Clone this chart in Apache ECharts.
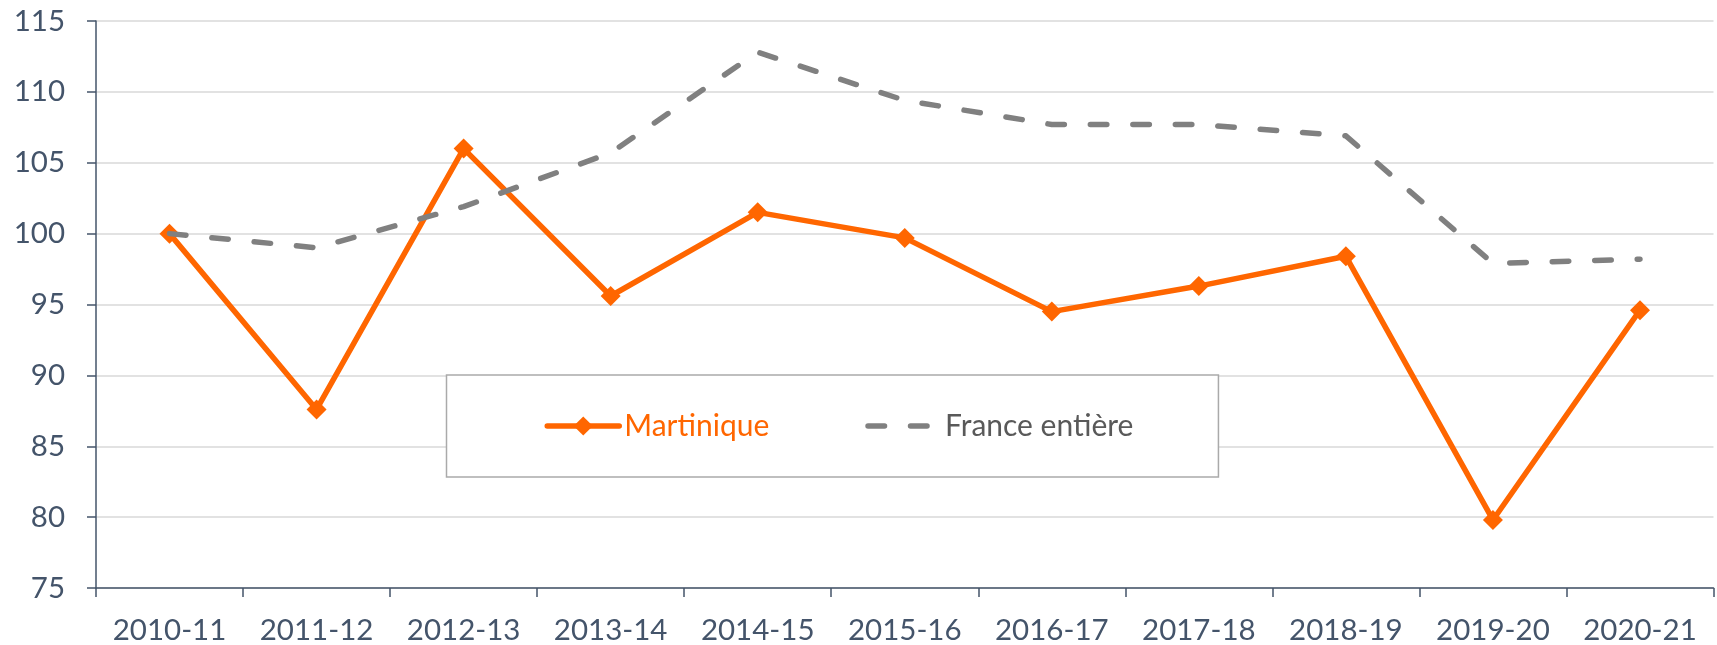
<!DOCTYPE html>
<html>
<head>
<meta charset="utf-8">
<script src="https://cdn.jsdelivr.net/npm/echarts@6/dist/echarts.min.js"></script>
<style>
html,body{margin:0;padding:0;background:#fff;}
#chart{width:1717px;height:645px;}
</style>
</head>
<body>
<div id="chart"></div>
<script>
const categories = ['2010-11','2011-12','2012-13','2013-14','2014-15','2015-16','2016-17','2017-18','2018-19','2019-20','2020-21'];
const martinique = [100, 87.6, 106.0, 95.6, 101.5, 99.7, 94.5, 96.3, 98.4, 79.8, 94.6];
const franceEntiere = [100, 99.0, 101.9, 105.7, 112.8, 109.4, 107.7, 107.7, 106.9, 97.9, 98.2];
const yTicks = {min: 75, max: 115, interval: 5};

const FONT = 'Lato';
const AXIS_COLOR = '#44546A';
const chart = echarts.init(document.getElementById('chart'), null, {renderer: 'canvas'});
chart.setOption({
  animation: false,
  backgroundColor: '#ffffff',
  textStyle: {fontFamily: FONT},
  grid: {left: 96, right: 3.5, top: 21, bottom: 57, containLabel: false},
  legend: {
    left: 446.5, top: 375,
    orient: 'horizontal',
    backgroundColor: '#ffffff',
    borderColor: '#AAAAAA',
    borderWidth: 1.5,
    padding: [36, 85, 36, 98],
    itemGap: 96,
    itemWidth: 72,
    itemHeight: 24,
    lineStyle: {width: 5.5},
    textStyle: {fontFamily: FONT, fontSize: 30},
    data: [
      {name: 'Martinique', textStyle: {color: '#FF6600'}},
      {name: 'France entière', textStyle: {color: '#595959'}, itemStyle: {opacity: 0}}
    ]
  },
  xAxis: {
    type: 'category',
    data: categories,
    boundaryGap: true,
    axisLine: {show: true, lineStyle: {color: AXIS_COLOR, width: 1.5}},
    axisTick: {show: true, length: 9, alignWithLabel: false, lineStyle: {color: AXIS_COLOR, width: 1.5}},
    axisLabel: {color: AXIS_COLOR, fontSize: 29.5, fontFamily: FONT, margin: 27, interval: 0},
    splitLine: {show: false}
  },
  yAxis: {
    type: 'value',
    min: yTicks.min, max: yTicks.max, interval: yTicks.interval,
    axisLine: {show: true, lineStyle: {color: AXIS_COLOR, width: 1.5}},
    axisTick: {show: true, length: 9, lineStyle: {color: AXIS_COLOR, width: 1.5}},
    axisLabel: {color: AXIS_COLOR, fontSize: 29.5, fontFamily: FONT, margin: 31},
    splitLine: {show: true, lineStyle: {color: '#D9D9D9', width: 1.5}}
  },
  series: [
    {
      name: 'Martinique',
      type: 'line',
      data: martinique,
      symbol: 'diamond',
      symbolSize: 20,
      lineStyle: {color: '#FF6600', width: 5.5, cap: 'round', join: 'round'},
      itemStyle: {color: '#FF6600'},
      z: 3
    },
    {
      name: 'France entière',
      type: 'line',
      data: franceEntiere,
      symbol: 'none',
      lineStyle: {color: '#808080', width: 5.5, type: [16.5, 26], cap: 'round', join: 'round'},
      itemStyle: {color: '#808080'},
      z: 4
    }
  ]
});
</script>
</body>
</html>
